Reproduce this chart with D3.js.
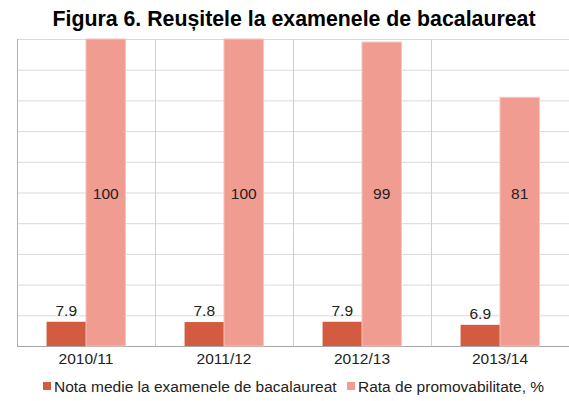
<!DOCTYPE html>
<html>
<head>
<meta charset="utf-8">
<script src="https://cdn.jsdelivr.net/npm/d3@7"></script>
<style>
  body { margin: 0; background: #fff; }
  svg { font-family: "Liberation Sans", Arial, sans-serif; }
</style>
</head>
<body>
<svg id="chart" width="569" height="401"></svg>
<script>
var years = ["2010/11", "2011/12", "2012/13", "2013/14"];
var nota = [7.9, 7.8, 7.9, 6.9];
var rata = [100, 100, 99, 81];
var seriesNames = ["Nota medie la examenele de bacalaureat", "Rata de promovabilitate, %"];
var colors = ["#d35b3f", "#f09c91"];

var width = 569, height = 401;
var margin = {top: 39, right: 0, bottom: 55, left: 17};

var svg = d3.select("#chart");

svg.append("text")
    .attr("x", 294).attr("y", 26)
    .attr("text-anchor", "middle")
    .style("font-size", "21.3px").style("font-weight", "bold")
    .text("Figura 6. Reușitele la examenele de bacalaureat");

var x = d3.scaleBand().domain(years).range([margin.left, width - margin.right]);
var x1 = d3.scaleBand().domain([0, 1]).range([0, x.bandwidth()]).paddingOuter(0.75).paddingInner(0);
var y = d3.scaleLinear().domain([0, 100]).range([height - margin.bottom, margin.top]);

// horizontal grid
svg.append("g").selectAll("line")
    .data(d3.range(0, 101, 10))
    .enter().append("line")
    .attr("x1", margin.left).attr("x2", width)
    .attr("y1", function(d) { return y(d) + 0.5; })
    .attr("y2", function(d) { return y(d) + 0.5; })
    .attr("stroke", function(d) { return d === 0 ? "#a6a6a6" : "#d9d9d9"; })
    .attr("stroke-width", 1);

// vertical grid at category boundaries
svg.append("g").selectAll("line")
    .data(years)
    .enter().append("line")
    .attr("x1", function(d) { return Math.round(x(d)) + 0.5; })
    .attr("x2", function(d) { return Math.round(x(d)) + 0.5; })
    .attr("y1", y(100)).attr("y2", y(0))
    .attr("stroke", function(d, i) { return i === 0 ? "#b0b0b0" : "#cfcfcf"; });

var groups = svg.append("g").selectAll("g")
    .data(years)
    .enter().append("g")
    .attr("transform", function(d) { return "translate(" + x(d) + ",0)"; });

// nota bars
groups.append("rect")
    .attr("x", x1(0)).attr("width", x1.bandwidth())
    .attr("y", function(d, i) { return y(nota[i]); })
    .attr("height", function(d, i) { return y(0) - y(nota[i]); })
    .attr("fill", colors[0]);

// rata bars
groups.append("rect")
    .attr("x", x1(1)).attr("width", x1.bandwidth())
    .attr("y", function(d, i) { return y(rata[i]); })
    .attr("height", function(d, i) { return y(0) - y(rata[i]); })
    .attr("fill", colors[1])
    .attr("stroke", "#f7c3bb").attr("stroke-width", 1);

// labels
groups.append("text")
    .attr("x", x1(0) + x1.bandwidth() / 2)
    .attr("y", function(d, i) { return y(nota[i]) - 6; })
    .attr("text-anchor", "middle")
    .style("font-size", "15.5px").attr("fill", "#222")
    .text(function(d, i) { return nota[i]; });

// rata labels all sit at the same height in the original
groups.append("text")
    .attr("x", x1(1) + x1.bandwidth() / 2)
    .attr("y", y(d3.max(rata) / 2) + 6)
    .attr("text-anchor", "middle")
    .style("font-size", "15.5px").attr("fill", "#222")
    .text(function(d, i) { return rata[i]; });

// x axis labels
svg.append("g").selectAll("text")
    .data(years)
    .enter().append("text")
    .attr("x", function(d) { return x(d) + x.bandwidth() / 2; })
    .attr("y", y(0) + 18)
    .attr("text-anchor", "middle")
    .style("font-size", "15.5px").attr("fill", "#222")
    .text(function(d) { return d; });

// legend
var legendX = [43, 347];
var legend = svg.append("g").selectAll("g")
    .data(seriesNames)
    .enter().append("g")
    .attr("transform", function(d, i) { return "translate(" + legendX[i] + ",382)"; });
legend.append("rect")
    .attr("width", 8).attr("height", 8)
    .attr("fill", function(d, i) { return colors[i]; });
legend.append("text")
    .attr("x", 11).attr("y", 10)
    .style("font-size", "15.5px").attr("fill", "#222")
    .text(function(d) { return d; });
</script>
</body>
</html>
